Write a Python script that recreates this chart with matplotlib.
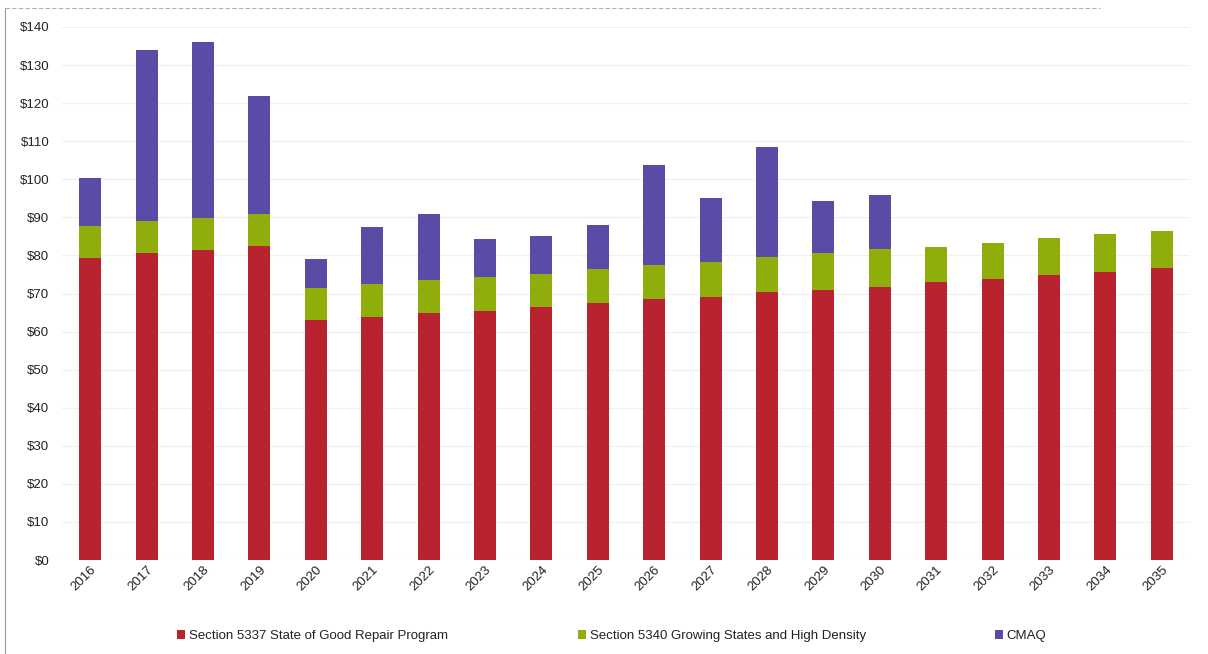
import matplotlib
matplotlib.use("Agg")
import matplotlib.pyplot as plt
from matplotlib.lines import Line2D
from matplotlib.ticker import MultipleLocator, FuncFormatter
import numpy as np

years = [str(y) for y in range(2016, 2036)]
sgr_5337 = [79.3, 80.6, 81.4, 82.5, 63.0, 63.8, 64.9, 65.5, 66.5, 67.4,
            68.6, 69.2, 70.3, 70.9, 71.8, 72.9, 73.9, 74.8, 75.7, 76.6]
gshd_5340 = [8.4, 8.4, 8.4, 8.4, 8.4, 8.7, 8.6, 8.9, 8.5, 9.0,
             8.9, 9.2, 9.2, 9.7, 9.8, 9.2, 9.3, 9.7, 9.9, 9.9]
cmaq = [12.6, 45.0, 46.2, 31.1, 7.6, 15.0, 17.4, 9.9, 10.1, 11.6,
        26.3, 16.6, 28.9, 13.8, 14.3, 0, 0, 0, 0, 0]
series_names = ["Section 5337 State of Good Repair Program",
                "Section 5340 Growing States and High Density",
                "CMAQ"]
colors = ["#B8232F", "#8FAE0C", "#5A4CA6"]

plt.rcParams["font.family"] = ["Liberation Sans Narrow", "Liberation Sans", "DejaVu Sans"]

fig = plt.figure(figsize=(12.08, 6.54), dpi=100)
ax = fig.add_axes([62 / 1208, 1 - 560 / 654, (1190 - 62) / 1208, (560 - 27) / 654])

x = np.arange(len(years))
w = 0.39
b1 = ax.bar(x, sgr_5337, w, color=colors[0], label=series_names[0])
bottom2 = np.array(sgr_5337)
b2 = ax.bar(x, gshd_5340, w, bottom=bottom2, color=colors[1], label=series_names[1])
bottom3 = bottom2 + np.array(gshd_5340)
b3 = ax.bar(x, cmaq, w, bottom=bottom3, color=colors[2], label=series_names[2])

ax.set_xlim(-0.5, len(years) - 0.5)
ax.set_ylim(0, 140)
ax.yaxis.set_major_locator(MultipleLocator(10))
ax.yaxis.set_major_formatter(FuncFormatter(lambda v, p: f"${v:.0f}"))
ax.grid(axis="y", color="#f0f0f0", linewidth=0.8)
ax.set_axisbelow(True)
for s in ax.spines.values():
    s.set_visible(False)
ax.tick_params(axis="both", length=0, labelsize=9.5, colors="#222222")
ax.tick_params(axis="y", pad=14 - 5)
ax.set_xticks(x)
ax.set_xticklabels(years, rotation=45, ha="right", rotation_mode="anchor")
ax.tick_params(axis="x", pad=3)

fig.legend(handles=[b1, b2, b3], labels=series_names, loc="center",
           bbox_to_anchor=(612 / 1208, 1 - 636 / 654), ncol=3, frameon=False,
           fontsize=9.5, handlelength=0.6, handleheight=0.6, handletextpad=0.3,
           columnspacing=9.8, labelcolor="#222222")

# thin page border on the left and top
fig.add_artist(Line2D([5 / 1208, 5 / 1208], [0, 1 - 8 / 654], transform=fig.transFigure,
                      color="#9a9a9a", linewidth=0.8))
fig.add_artist(Line2D([5 / 1208, 1100 / 1208], [1 - 8 / 654, 1 - 8 / 654], transform=fig.transFigure,
                      color="#b0b0b0", linewidth=0.8, linestyle=(0, (4, 2))))

fig.savefig("out.png", dpi=100)
